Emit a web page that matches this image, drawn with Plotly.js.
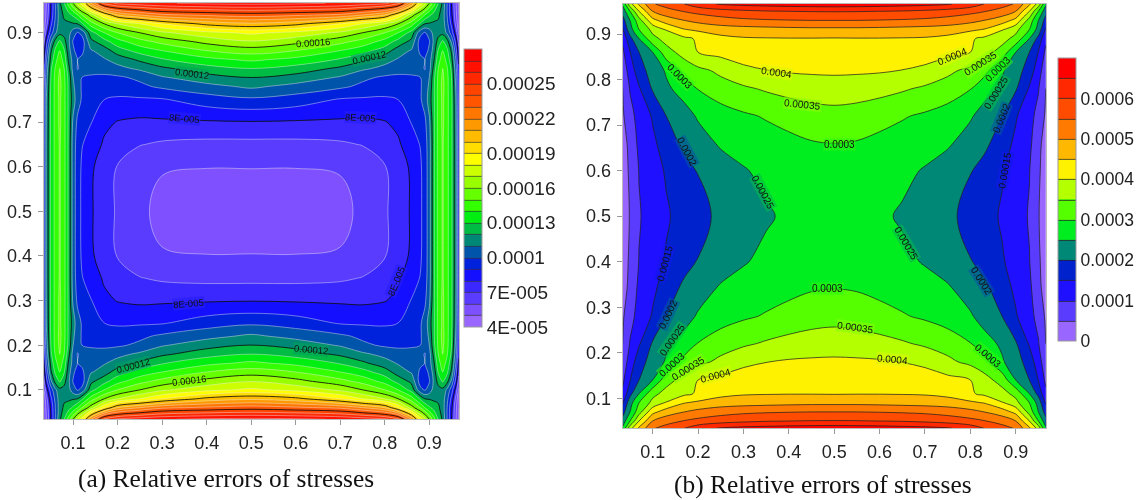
<!DOCTYPE html>
<html>
<head>
<meta charset="utf-8">
<script src="https://cdn.plot.ly/plotly-3.0.1.min.js"></script>
<style>html,body{margin:0;padding:0;background:#fff} #chart svg{filter:blur(0.35px)}</style>
</head>
<body>
<div id="chart" style="width:1143px;height:500px"></div>
<script>
// Values are in units of 1e-5. Both fields are read for one quarter of the square (x<=0.5, y>=0.5).
var tickValues = [0.1,0.2,0.3,0.4,0.5,0.6,0.7,0.8,0.9];
var tickLabels = ['0.1','0.2','0.3','0.4','0.5','0.6','0.7','0.8','0.9'];

var xHalfA = [0.034,0.04,0.05,0.06,0.07,0.08,0.09,0.10,0.11,0.12,0.14,0.17,0.2,0.25,0.3,0.4,0.5];
var yHalfA = [0.5,0.6,0.65,0.7,0.75,0.78,0.8,0.82,0.84,0.86,0.88,0.9,0.92,0.94,0.966];
var zQuarterA = [
 [9,11.2,13.2,14.3,15.1,14.3,12.8,10.5,9.5,8.8,8.1,7.5,6.85,6.15,5.8,5.5,5.4],
 [9,11.2,13.2,14.3,15.1,14.3,12.8,10.5,9.5,8.85,8.15,7.55,6.95,6.3,6.05,6.02,6.03],
 [9,11.2,13.2,14.3,15.1,14.3,12.8,10.5,9.6,9.05,8.6,7.85,7.4,7.05,6.85,6.72,6.72],
 [9,11.1,13.2,14.3,15.2,14.3,12.8,10.8,9.8,9.5,9.05,8.25,7.95,7.8,7.85,7.9,7.95],
 [8.8,11,13.2,14.3,15.2,14.3,12.8,11.5,10.4,9.9,9.3,9,8.85,8.85,8.9,9.5,9.8],
 [8.6,10.8,13.1,14.3,15.3,14.3,12.8,11.2,10.4,9.9,9.6,9.4,9.5,9.8,10.2,10.7,11.2],
 [8.4,10.6,13,14.3,15.2,14.2,12.7,11,10.3,10,9.85,9.75,9.85,10.2,10.9,11.6,12.05],
 [8.2,10.3,12.8,14.1,15,14,12.3,10.6,9.95,10.2,10.4,10.5,10.7,11.2,11.8,12.6,13],
 [7.8,9.9,12.3,13.7,14.5,13.6,11.8,10.6,10,10.2,10.6,10.9,11.4,12.2,12.9,13.7,14.2],
 [7.3,9.3,11.8,13.2,14,13.1,11.4,10.3,9.4,9.8,10.9,11.5,12.5,13.4,14,15,15.5],
 [6.6,8.6,10.8,12.4,13.2,12.4,11.2,9.9,9.2,9.5,11.7,12.6,13.6,14.6,15.3,16.3,16.9],
 [5.8,7.5,9.5,10.8,11.7,11.6,11.4,10.4,9.9,10.3,12.6,14,15,16,16.8,17.7,18.2],
 [5.2,6.6,8.7,10.3,11.5,11.8,11.8,11.9,12,12.8,14.5,16,17,18,19,20.3,20.8],
 [5,6.2,8.2,10,11.5,12.2,12.6,13.2,14,15,16.5,19,21,22,22.8,23.2,23.5],
 [5,6,8,10,11.8,13,14.5,16,17.5,18.5,22,25.5,26.2,26.6,26.9,27.2,27.3]
];
var coloursA = ['#9966ff','#7f50ff','#5a3cff','#3a28ff','#1410ff','#0022dd','#0055aa','#008877',
 '#00bb44','#00ee11','#33ff00','#66ff00','#99ff00','#ccff00','#ffff00','#ffdd00','#ffbb00',
 '#ff9900','#ff7700','#ff5500','#ff4400','#ff2800','#ff1000','#ff0000'];
var barTickValuesA = [4,7,10,13,16,19,22,25];
var barTickTextA = ['4E-005','7E-005','0.0001','0.00013','0.00016','0.00019','0.00022','0.00025'];

var xHalfB = [0.034,0.05,0.07,0.1,0.13,0.17,0.2,0.25,0.3,0.35,0.4,0.45,0.5];
var yHalfB = [0.5,0.6,0.66,0.72,0.78,0.82,0.86,0.89,0.91,0.93,0.95,0.966];
var zQuarterB = [
 [3,5.2,9.6,12.3,14.4,17,18.6,21,23.2,24.4,25.9,27,27.5],
 [3.2,5.6,10.2,13,15.5,18.2,20.2,22.8,24.6,26.2,27.3,28.1,28.4],
 [3.5,6,11.3,14,17.3,21.3,23,25.6,27,28,28.9,29.7,30],
 [4.3,8.5,11.6,15.5,20,23.3,25.5,27.5,29.3,30.4,31.5,32.7,33.2],
 [5,10.3,14.5,20.5,24.2,26.8,30.2,33,34.2,35.6,36.8,37.5,37.8],
 [6.5,12.5,17.5,22.5,25.5,31.8,33.8,36,38.8,39.9,40.5,40.7,40.8],
 [9,14.8,20,25,33,37,40,41.5,42.6,43,43.3,43.5,43.5],
 [11,18.5,25,33.5,36.8,39,40.6,43.5,44.5,44.7,44.8,44.8,44.7],
 [14.5,23,30,36.5,40.4,44.8,46,47.5,48,48.3,48.6,48.8,48.8],
 [18,25,33,43.5,47.5,50,51.5,53,54,54.5,54.8,55,55],
 [22,30,40,50,53,55.3,56.5,58,59,59.7,60,60.2,60.3],
 [26,38,46,54.5,57,60,63,65.5,66.5,67,67.5,67.8,68]
];
var coloursB = ['#9966ff','#5a3cff','#1f10ff','#0022cc','#008877','#00ee20','#55ff00','#b4ff00',
 '#fff200','#ffb800','#ff7a00','#ff4c00','#ff2800','#ff0000'];
var barTickValuesB = [0,10,20,30,40,50,60];
var barTickTextB = ['0','0.0001','0.0002','0.0003','0.0004','0.0005','0.0006'];

// Contour label text, contour level, place on the plot and slope.
var labelTextA  = ['0.00016','0.00012','0.00012','8E-005','8E-005','8E-005','8E-005','0.00012','0.00012','0.00016'];
var labelLevelA = [16,12,12,8,8,8,8,12,12,16];
var labelXA = [0.639,0.764,0.366,0.351,0.746,0.827,0.359,0.634,0.235,0.360];
var labelYA = [0.878,0.845,0.808,0.708,0.711,0.344,0.294,0.191,0.154,0.122];
var labelAngleA = [-4,-12,7,5,3,-68,-5,5,-15,-7];

var labelTextB  = ['0.0004','0.00035','0.0003','0.00025','0.0002','0.00015',
 '0.0003','0.0002','0.00025','0.0004','0.00035','0.0003',
 '0.00015','0.0002','0.00025','0.0003','0.00035','0.0004',
 '0.0003','0.00035','0.0004','0.0003','0.0002','0.00025'];
var labelLevelB = [40,35,30,25,20,15,30,20,25,40,35,30,15,20,25,30,35,40,30,35,40,30,20,25];
var labelXB = [0.760,0.822,0.859,0.857,0.868,0.875,0.160,0.175,0.343,0.373,0.431,0.512,0.126,0.133,0.144,0.142,0.178,0.239,0.486,0.547,0.629,0.839,0.824,0.659];
var labelYB = [0.850,0.836,0.823,0.771,0.715,0.601,0.806,0.641,0.551,0.815,0.745,0.658,0.397,0.285,0.229,0.175,0.165,0.151,0.342,0.256,0.186,0.195,0.358,0.440];
var labelAngleB = [-22,-33,-45,-58,-68,-80,45,62,62,8,6,0,-75,-65,-55,-42,-32,-15,0,8,5,40,58,60];

var captionA = '(a) Relative errors of stresses';
var captionB = '(b) Relative errors of stresses';

function fullY(h){
  var low = h.slice(1).map(function(v){return +(1-v).toFixed(4)}).reverse();
  return low.concat(h);
}
function fullX(h){
  var right = h.slice(0,h.length-1).map(function(v){return +(1-v).toFixed(4)}).reverse();
  return h.concat(right);
}
function fullZ(q){
  var rows = q.map(function(r){ return r.concat(r.slice(0,r.length-1).reverse()); });
  return rows.slice(1).reverse().concat(rows);
}
function scale(c){return c.map(function(col,i){return [i/(c.length-1),col]})}
function steps(c){
  var s=[];
  c.forEach(function(col,i){s.push([i/c.length,col]);s.push([(i+1)/c.length,col]);});
  return s;
}
function hex2(c){return [parseInt(c.slice(1,3),16),parseInt(c.slice(3,5),16),parseInt(c.slice(5,7),16)]}
function blend(a,b){var p=hex2(a),q=hex2(b);return 'rgba('+Math.round((p[0]+q[0])/2)+','+Math.round((p[1]+q[1])/2)+','+Math.round((p[2]+q[2])/2)+',0.6)'}

var W=1143,H=500;
var font='"Liberation Sans", Arial, sans-serif';
var xA=fullX(xHalfA), yA=fullY(yHalfA), zA=fullZ(zQuarterA);
var xB=fullX(xHalfB), yB=fullY(yHalfB), zB=fullZ(zQuarterB);
var dark='rgba(35,35,35,0.95)';

function barCfg(left,top,bottom,tv,tt,size){
  return {x:left/W,xanchor:'left',xref:'paper',xpad:0,thickness:18,thicknessmode:'pixels',
    y:1-bottom/H,yanchor:'bottom',yref:'paper',ypad:0,len:(bottom-top)/H,lenmode:'fraction',
    tickmode:'array',tickvals:tv,ticktext:tt,ticks:'',ticklen:0,
    tickfont:{family:font,size:size,color:'#222'},outlinecolor:'#999',outlinewidth:1,borderwidth:0};
}
var baseA={x:xA,y:yA,z:zA,type:'contour',xaxis:'x',yaxis:'y',autocontour:false,hoverinfo:'skip'};
var baseB={x:xB,y:yB,z:zB,type:'contour',xaxis:'x2',yaxis:'y2',autocontour:false,hoverinfo:'skip'};
function ext(b,o){var r={};for(var k in b)r[k]=b[k];for(var m in o)r[m]=o[m];return r}

var traces=[
 // carries the colour bar with its full range and dark band edges; painted over by the next trace
 ext(baseA,{contours:{start:5,end:27,size:1,coloring:'heatmap',showlines:true},zauto:false,zmin:4,zmax:28,colorscale:steps(coloursA),
   line:{color:'#333',width:0.7,smoothing:1},showscale:true,colorbar:barCfg(464,49,327,barTickValuesA,barTickTextA,19)}),
 ext(baseA,{contours:{start:5,end:27,size:1,coloring:'fill',showlines:false},colorscale:scale(coloursA),
   line:{width:0,smoothing:1},showscale:false})
];
// pale lines between the labelled levels
[5,9,13,17,21,25].forEach(function(s){
  traces.push(ext(baseA,{contours:{start:s,end:s+2,size:1,coloring:'none'},line:{color:'rgba(235,235,235,0.5)',width:0.9,smoothing:1},showscale:false}));
});
traces.push(ext(baseA,{contours:{start:8,end:24,size:4,coloring:'none'},line:{color:'rgba(15,15,15,0.95)',width:0.9,smoothing:1},showscale:false}));
traces.push(ext(baseB,{contours:{start:5,end:65,size:5,coloring:'heatmap',showlines:true},zauto:false,zmin:0,zmax:70,colorscale:steps(coloursB),
   line:{color:dark,width:0.8,smoothing:1},showscale:true,colorbar:barCfg(1058,58,341,barTickValuesB,barTickTextB,17.5)}));
traces.push(ext(baseB,{contours:{start:5,end:65,size:5,coloring:'fill',showlines:true},colorscale:scale(coloursB),
   line:{color:dark,width:0.8,smoothing:1},showscale:false}));

function axis(dom,anchor,range){
  return {domain:dom,anchor:anchor,range:range,tickmode:'array',tickvals:tickValues,ticktext:tickLabels,
    ticks:'outside',ticklen:5,tickwidth:1,tickcolor:'#999',tickfont:{family:font,size:18,color:'#222'},
    showgrid:false,zeroline:false,showline:true,mirror:true,linecolor:'#bbb',linewidth:1,ticklabelstandoff:2};
}
var notes=[];
function addLabels(t,l,x,y,a,c,step,low,xr,yr,fs){
  t.forEach(function(s,i){
    var k=(l[i]-low)/step;
    notes.push({text:s,x:x[i],y:y[i],xref:xr,yref:yr,showarrow:false,textangle:a[i],
      font:{family:font,size:fs,color:'#111'},bgcolor:blend(c[k-1],c[k]),borderpad:0});
  });
}
addLabels(labelTextA,labelLevelA,labelXA,labelYA,labelAngleA,coloursA,1,4,'x','y',9.5);
addLabels(labelTextB,labelLevelB,labelXB,labelYB,labelAngleB,coloursB,5,0,'x2','y2',10);

var serif='"Liberation Serif", "Times New Roman", serif';
notes.push({text:captionA,xref:'paper',yref:'paper',x:75.5/W,y:1-478/H,xanchor:'left',yanchor:'middle',showarrow:false,
  font:{family:serif,size:25.4,color:'#111'}});
notes.push({text:captionB,xref:'paper',yref:'paper',x:671.5/W,y:1-484/H,xanchor:'left',yanchor:'middle',showarrow:false,
  font:{family:serif,size:25.4,color:'#111'}});

var layout={width:W,height:H,margin:{l:0,r:0,t:0,b:0},paper_bgcolor:'#fff',plot_bgcolor:'#fff',showlegend:false,
  xaxis:axis([43.7/W,458.7/W],'y',[0.034,0.966]),
  yaxis:axis([1-419.3/H,1-3.3/H],'x',[0.034,0.966]),
  xaxis2:axis([622.7/W,1045.7/W],'y2',[0.034,0.966]),
  yaxis2:axis([1-428.3/H,1-4/H],'x2',[0.034,0.966]),
  annotations:notes};
Plotly.newPlot('chart',traces,layout,{displayModeBar:false,staticPlot:true});
</script>
</body>
</html>
